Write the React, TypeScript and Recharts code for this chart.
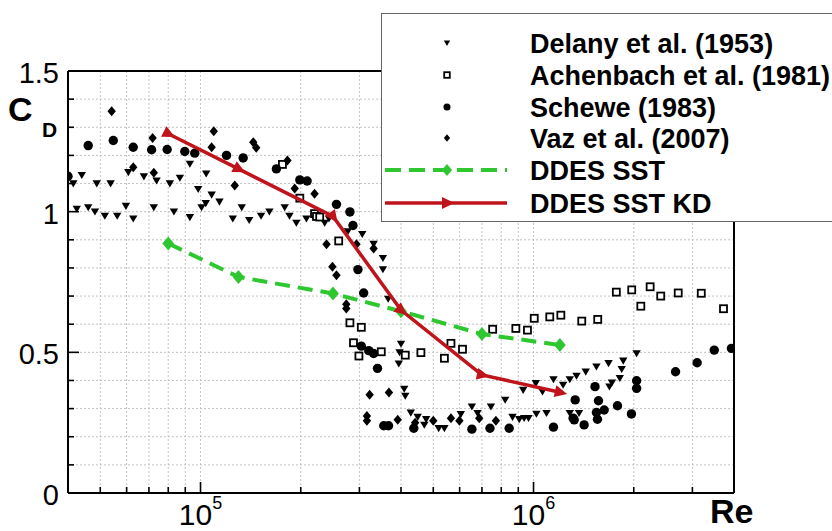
import React from 'react';
import { ScatterChart, Scatter, XAxis, YAxis, CartesianGrid, ReferenceLine } from 'recharts';

const W = 832;
const H = 531;
const PLOT_LEFT = 68;
const PLOT_TOP = 71;
const PLOT_RIGHT = 734;
const PLOT_BOTTOM = 493;
const Y_AXIS_W = 60;
const X_AXIS_H = 30;
const X_DOMAIN: [number, number] = [4e4, 4e6];
const Y_DOMAIN: [number, number] = [0, 1.5];
const FONT = '"Liberation Sans", Arial, sans-serif';

const xTicks = [5e4, 6e4, 7e4, 8e4, 9e4, 1e5, 2e5, 3e5, 4e5, 5e5, 6e5, 7e5, 8e5, 9e5, 1e6, 2e6, 3e6];
const xMajor = [1e5, 1e6];
const yTicks = [0, 0.1, 0.2, 0.3, 0.4, 0.5, 0.6, 0.7, 0.8, 0.9, 1, 1.1, 1.2, 1.3, 1.4, 1.5];
const yLabels = [0, 0.5, 1, 1.5];

const seriesNames = ['Delany et al. (1953)', 'Achenbach et al. (1981)', 'Schewe (1983)', 'Vaz et al. (2007)', 'DDES SST', 'DDES SST KD'];

type P = [number, number];

const delany: P[] = [
  [4.15e4, 1.10], [4.4e4, 1.13], [4.88e4, 1.10], [5.37e4, 1.10], [6.07e4, 1.14], [6.76e4, 1.125], [7.38e4, 1.11], [8.09e4, 1.10], [8.67e4, 1.12], [9.29e4, 1.17], [9.84e4, 1.08],
  [4.25e4, 1.01], [4.6e4, 1.015], [4.82e4, 1.0], [5.16e4, 0.985], [5.62e4, 0.985], [5.97e4, 1.02], [6.28e4, 0.975], [7.24e4, 1.015], [8.32e4, 1.0], [9.29e4, 0.98],
  [1.04e5, 1.135], [1.08e5, 1.06], [1.037e5, 1.03], [1.007e5, 1.015], [1.14e5, 1.035], [1.33e5, 1.015], [1.25e5, 0.975], [1.4e5, 0.97], [1.52e5, 0.985], [1.61e5, 1.0], [1.79e5, 1.015], [1.85e5, 0.985], [1.94e5, 0.96], [2.08e5, 0.975], [2.36e5, 0.96], [2.43e5, 0.975],
  [2.77e5, 0.93], [3.06e5, 0.92], [3.31e5, 0.885], [3.53e5, 0.835], [3.53e5, 0.795], [3.66e5, 0.69], [4.0e5, 0.53], [3.96e5, 0.50], [3.94e5, 0.46], [4.09e5, 0.37], [4.12e5, 0.345],
  [4.28e5, 0.285], [4.49e5, 0.27], [4.7e5, 0.242], [4.76e5, 0.262], [5.19e5, 0.23], [5.4e5, 0.23], [6.05e5, 0.28], [6.53e5, 0.307], [6.79e5, 0.284], [7.45e5, 0.307], [8.65e5, 0.27], [9.06e5, 0.262], [9.37e5, 0.266], [9.66e5, 0.266], [1.02e6, 0.281], [1.094e6, 0.284], [1.285e6, 0.284], [1.37e6, 0.284],
  [8.22e5, 0.331], [9.31e5, 0.366], [1.016e6, 0.39], [1.064e6, 0.36], [1.148e6, 0.404], [1.227e6, 0.384], [1.285e6, 0.404], [1.346e6, 0.416], [1.435e6, 0.431], [1.545e6, 0.449], [1.68e6, 0.461], [1.72e6, 0.392], [1.69e6, 0.378], [1.816e6, 0.408], [1.84e6, 0.44], [1.86e6, 0.47], [2.04e6, 0.496],
];

const achenbach: P[] = [
  [1.762e5, 1.168], [1.987e5, 1.048], [2.2e5, 0.993], [2.23e5, 0.983], [2.28e5, 0.981], [2.6e5, 0.896], [2.81e5, 0.605], [3.04e5, 0.589], [2.88e5, 0.534], [2.99e5, 0.487],
  [3.49e5, 0.502], [4.12e5, 0.49], [4.59e5, 0.499], [5.4e5, 0.479], [5.65e5, 0.532], [6.12e5, 0.511], [7.54e5, 0.582], [8.85e5, 0.585], [9.59e5, 0.579], [1.005e6, 0.621],
  [1.119e6, 0.626], [1.208e6, 0.632], [1.396e6, 0.611], [1.559e6, 0.617], [1.773e6, 0.714], [1.972e6, 0.722], [2.1e6, 0.664], [2.24e6, 0.733], [2.41e6, 0.7], [2.72e6, 0.711],
  [3.19e6, 0.71], [3.72e6, 0.655],
];

const schewe: P[] = [
  [4.0e4, 1.126], [4.6e4, 1.235], [5.47e4, 1.253], [6.28e4, 1.229], [7.13e4, 1.22], [7.94e4, 1.221], [8.97e4, 1.214], [9.61e4, 1.208], [1.197e5, 1.2], [1.343e5, 1.191],
  [1.69e5, 1.152], [1.987e5, 1.113], [2.09e5, 1.109], [2.56e5, 1.026], [2.81e5, 0.999], [2.87e5, 0.951], [2.97e5, 0.794], [3.09e5, 0.711], [3.04e5, 0.522], [3.2e5, 0.506],
  [3.31e5, 0.496], [3.4e5, 0.443], [3.55e5, 0.239], [3.67e5, 0.239], [4.37e5, 0.23], [6.53e5, 0.227], [7.4e5, 0.23], [8.45e5, 0.23], [1.148e6, 0.234], [1.325e6, 0.26],
  [1.334e6, 0.331], [1.315e6, 0.266], [1.419e6, 0.242], [1.53e6, 0.378], [1.545e6, 0.286], [1.556e6, 0.262], [1.567e6, 0.328], [1.63e6, 0.295], [1.787e6, 0.31], [1.968e6, 0.281],
  [2.04e6, 0.399], [2.04e6, 0.372], [2.67e6, 0.431], [3.1e6, 0.463], [3.49e6, 0.508], [3.93e6, 0.514],
];

const vaz: P[] = [
  [5.41e4, 1.357], [7.18e4, 1.262], [6.28e4, 1.158], [7.24e4, 1.138], [1.096e5, 1.286], [1.08e5, 1.229], [1.267e5, 1.093], [1.44e5, 1.247], [1.47e5, 1.227], [1.824e5, 1.182],
  [1.918e5, 1.082], [2.2e5, 1.064], [2.39e5, 0.884], [2.49e5, 0.804], [2.56e5, 0.774], [2.94e5, 0.884], [3.31e5, 0.869], [2.74e5, 0.671], [2.74e5, 0.656], [3.22e5, 0.349],
  [3.68e5, 0.357], [3.16e5, 0.274], [3.16e5, 0.257], [3.91e5, 0.26], [4.41e5, 0.25], [5.0e5, 0.257], [5.65e5, 0.266], [5.99e5, 0.257], [6.87e5, 0.266], [7.71e5, 0.257],
];

const ddesSst: P[] = [[8e4, 0.887], [1.3e5, 0.768], [2.5e5, 0.709], [4e5, 0.646], [7e5, 0.565], [1.2e6, 0.526]];
const ddesSstKd: P[] = [[8e4, 1.277], [1.3e5, 1.152], [2.5e5, 0.983], [4e5, 0.65], [7e5, 0.42], [1.2e6, 0.358]];

const toPts = (a: P[]) => a.map(([re, cd]) => ({ re, cd }));

const BLACK = '#000';
const GREEN = '#2fc72f';
const RED = '#c0141c';

const pxPerDecade = (PLOT_RIGHT - PLOT_LEFT) / Math.log10(X_DOMAIN[1] / X_DOMAIN[0]);
const pxPerUnit = (PLOT_BOTTOM - PLOT_TOP) / (Y_DOMAIN[1] - Y_DOMAIN[0]);

function arrowAngle(re: number): number {
  const i = ddesSstKd.findIndex((p) => p[0] === re);
  if (i < 0) return 0;
  const a = i < ddesSstKd.length - 1 ? ddesSstKd[i] : ddesSstKd[i - 1];
  const b = i < ddesSstKd.length - 1 ? ddesSstKd[i + 1] : ddesSstKd[i];
  const dx = Math.log10(b[0] / a[0]) * pxPerDecade;
  const dy = -(b[1] - a[1]) * pxPerUnit;
  return (Math.atan2(dy, dx) * 180) / Math.PI;
}

const triDown = (cx: number, cy: number, s = 1) => (
  <polygon points={`${cx - 4.2 * s},${cy - 3.2 * s} ${cx + 4.2 * s},${cy - 3.2 * s} ${cx},${cy + 3.9 * s}`} fill={BLACK} />
);
const square = (cx: number, cy: number, s = 1) => (
  <rect x={cx - 3.5 * s} y={cy - 3.5 * s} width={7 * s} height={7 * s} fill="#fff" stroke={BLACK} strokeWidth={1.8} />
);
const circle = (cx: number, cy: number, s = 1) => <circle cx={cx} cy={cy} r={4.7 * s} fill={BLACK} />;
const diamond = (cx: number, cy: number, s = 1, fill = BLACK) => (
  <polygon points={`${cx},${cy - 5 * s} ${cx + 4.2 * s},${cy} ${cx},${cy + 5 * s} ${cx - 4.2 * s},${cy}`} fill={fill} />
);
const arrow = (cx: number, cy: number, angle: number) => (
  <polygon points={`${cx + 7.5},${cy} ${cx - 5},${cy - 6} ${cx - 5},${cy + 6}`} fill={RED} transform={`rotate(${angle} ${cx} ${cy})`} />
);

const DelanyShape = (p: any) => triDown(p.cx, p.cy);
const AchenbachShape = (p: any) => square(p.cx, p.cy);
const ScheweShape = (p: any) => circle(p.cx, p.cy);
const VazShape = (p: any) => diamond(p.cx, p.cy);
const SstShape = (p: any) => diamond(p.cx, p.cy, 1.4, GREEN);
const KdShape = (p: any) => arrow(p.cx, p.cy, arrowAngle(p.payload?.re ?? p.re));

const XTick = (props: any) => {
  const { x, y, payload } = props;
  const v = payload.value;
  const major = xMajor.some((m) => Math.abs(m - v) / m < 1e-6);
  return (
    <g>
      <line x1={x} x2={x} y1={y} y2={y - (major ? 11 : 6)} stroke={BLACK} strokeWidth={1.6} />
      {major && (
        <text x={x} y={y + 32} textAnchor="middle" fontSize={30} fontFamily={FONT} fill={BLACK}>
          <tspan>10</tspan>
          <tspan dy={-16} fontSize={18}>{Math.round(Math.log10(v))}</tspan>
        </text>
      )}
    </g>
  );
};

const YTick = (props: any) => {
  const { x, y, payload } = props;
  const v = payload.value;
  const major = yLabels.some((m) => Math.abs(m - v) < 1e-6);
  return (
    <g>
      <line x1={x} x2={x + (major ? 11 : 6)} y1={y} y2={y} stroke={BLACK} strokeWidth={1.6} />
      {major && (
        <text x={x - 9} y={y + 12} textAnchor="end" fontSize={29} fontFamily={FONT} fill={BLACK}>
          {String(v)}
        </text>
      )}
    </g>
  );
};

const LEG_X = 381;
const LEG_Y = 13;
const LEG_W = 470;
const LEG_H = 209;

const Legend = () => {
  const rows = [30, 62, 94, 125, 157, 190];
  const mx = 66;
  const symbols = [
    triDown(mx, rows[0], 0.75),
    square(mx, rows[1], 0.8),
    circle(mx, rows[2], 0.75),
    diamond(mx, rows[3], 0.75),
    (
      <g>
        <line x1={4} x2={126} y1={rows[4]} y2={rows[4]} stroke={GREEN} strokeWidth={4} strokeDasharray="16 8" />
        {diamond(mx, rows[4], 1.2, GREEN)}
      </g>
    ),
    (
      <g>
        <line x1={4} x2={126} y1={rows[5]} y2={rows[5]} stroke={RED} strokeWidth={3.5} />
        {arrow(mx, rows[5], 0)}
      </g>
    ),
  ];
  return (
    <svg width={LEG_W} height={LEG_H} style={{ position: 'absolute', left: LEG_X, top: LEG_Y }}>
      <rect x={0.5} y={0.5} width={LEG_W} height={LEG_H - 1} fill="#fff" stroke="#666" strokeWidth={1} />
      {seriesNames.map((name, i) => (
        <g key={name}>
          {symbols[i]}
          <text x={149} y={rows[i] + 9.5} fontSize={27} fontWeight="bold" fontFamily={FONT} fill={BLACK}>
            {name}
          </text>
        </g>
      ))}
    </svg>
  );
};

export default function App() {
  return (
    <div style={{ position: 'absolute', left: 0, top: 0, width: W, height: H, overflow: 'hidden', background: '#fff' }}>
      <ScatterChart
        width={W}
        height={H}
        margin={{ top: PLOT_TOP, right: W - PLOT_RIGHT, bottom: H - PLOT_BOTTOM - X_AXIS_H, left: PLOT_LEFT - Y_AXIS_W }}
      >
        <CartesianGrid stroke="#c2c2c2" strokeWidth={1} strokeDasharray="2 2" />
        <XAxis
          type="number"
          dataKey="re"
          scale="log"
          domain={X_DOMAIN}
          allowDataOverflow
          ticks={xTicks}
          interval={0}
          height={X_AXIS_H}
          tickSize={0}
          tickMargin={0}
          tickLine={false}
          tick={<XTick />}
          axisLine={{ stroke: BLACK, strokeWidth: 2 }}
        />
        <YAxis
          type="number"
          dataKey="cd"
          domain={Y_DOMAIN}
          allowDataOverflow
          ticks={yTicks}
          interval={0}
          width={Y_AXIS_W}
          tickSize={0}
          tickMargin={0}
          tickLine={false}
          tick={<YTick />}
          axisLine={{ stroke: BLACK, strokeWidth: 2 }}
        />
        <ReferenceLine y={1.5} stroke={BLACK} strokeWidth={2} />
        <ReferenceLine x={4e6} stroke={BLACK} strokeWidth={2} />
        <Scatter name={seriesNames[0]} data={toPts(delany)} shape={DelanyShape} isAnimationActive={false} />
        <Scatter name={seriesNames[1]} data={toPts(achenbach)} shape={AchenbachShape} isAnimationActive={false} />
        <Scatter name={seriesNames[2]} data={toPts(schewe)} shape={ScheweShape} isAnimationActive={false} />
        <Scatter name={seriesNames[3]} data={toPts(vaz)} shape={VazShape} isAnimationActive={false} />
        <Scatter
          name={seriesNames[4]}
          data={toPts(ddesSst)}
          shape={SstShape}
          line={{ stroke: GREEN, strokeWidth: 4, strokeDasharray: '15 8' }}
          isAnimationActive={false}
        />
        <Scatter
          name={seriesNames[5]}
          data={toPts(ddesSstKd)}
          shape={KdShape}
          line={{ stroke: RED, strokeWidth: 3.5 }}
          isAnimationActive={false}
        />
      </ScatterChart>
      <svg width={W} height={H} style={{ position: 'absolute', left: 0, top: 0, pointerEvents: 'none' }}>
        <text x={8} y={121} fontSize={34} fontWeight="bold" fontFamily={FONT} fill={BLACK}>C</text>
        <text x={42} y={137} fontSize={21} fontWeight="bold" fontFamily={FONT} fill={BLACK}>D</text>
        <text x={710} y={523} fontSize={34} fontWeight="bold" fontFamily={FONT} fill={BLACK}>Re</text>
      </svg>
      <Legend />
    </div>
  );
}
